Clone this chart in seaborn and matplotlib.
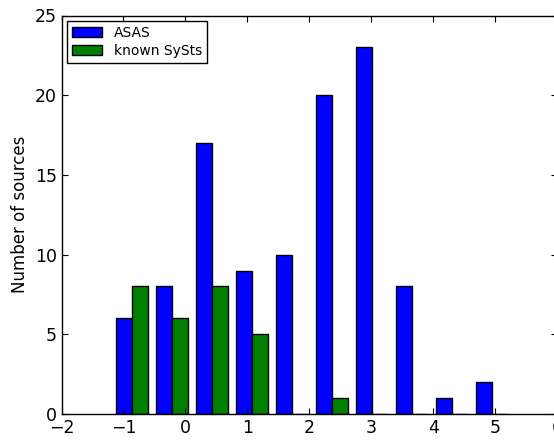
import numpy as np
import pandas as pd
import matplotlib
matplotlib.use("Agg")
import matplotlib.pyplot as plt
import seaborn as sns

# histogram bin edges
bin_edges = [-1.19, -0.545, 0.10, 0.745, 1.39, 2.035, 2.68, 3.325, 3.97, 4.615, 5.26]
asas = [6, 8, 17, 9, 10, 20, 23, 8, 1, 2]
known = [8, 6, 8, 5, 0, 1, 0, 0, 0, 0]

edges = np.array(bin_edges)
centers = np.round((edges[:-1] + edges[1:]) / 2, 4)
df = pd.DataFrame({
    "x": np.concatenate([centers, centers]),
    "count": asas + known,
    "series": ["ASAS"] * len(asas) + ["known SySts"] * len(known),
})

plt.rcParams.update({
    "xtick.direction": "in", "ytick.direction": "in",
    "xtick.top": True, "ytick.right": True,
    "xtick.major.size": 4, "ytick.major.size": 4,
    "xtick.labelsize": 12.5, "ytick.labelsize": 12.5,
    "font.family": "DejaVu Sans",
})

fig = plt.figure(figsize=(5.54, 4.47), dpi=100)
ax = fig.add_axes([61.5 / 554, 1 - 414 / 447, 496 / 554, 398.5 / 447])

sns.barplot(data=df, x="x", y="count", hue="series", native_scale=True,
            palette={"ASAS": "#0000ff", "known SySts": "#008000"},
            width=0.8, dodge=True, errorbar=None, edgecolor="black",
            linewidth=1, saturation=1, ax=ax)

ax.set_xlim(-2, 6)
ax.set_ylim(0, 25)
ax.set_xticks(range(-2, 7))
ax.set_yticks(range(0, 26, 5))
ax.set_xlabel("")
ax.set_ylabel("Number of sources", fontsize=12)
for s in ax.spines.values():
    s.set_color("black")
    s.set_linewidth(1)

sns.move_legend(ax, "upper left", title=None, fontsize=10, frameon=True,
                fancybox=False, edgecolor="black", framealpha=1,
                handlelength=2.2, handleheight=0.7, borderaxespad=0.4,
                borderpad=0.35, labelspacing=0.3)
ax.get_legend().get_frame().set_linewidth(1)

fig.savefig("out.png", dpi=100)
